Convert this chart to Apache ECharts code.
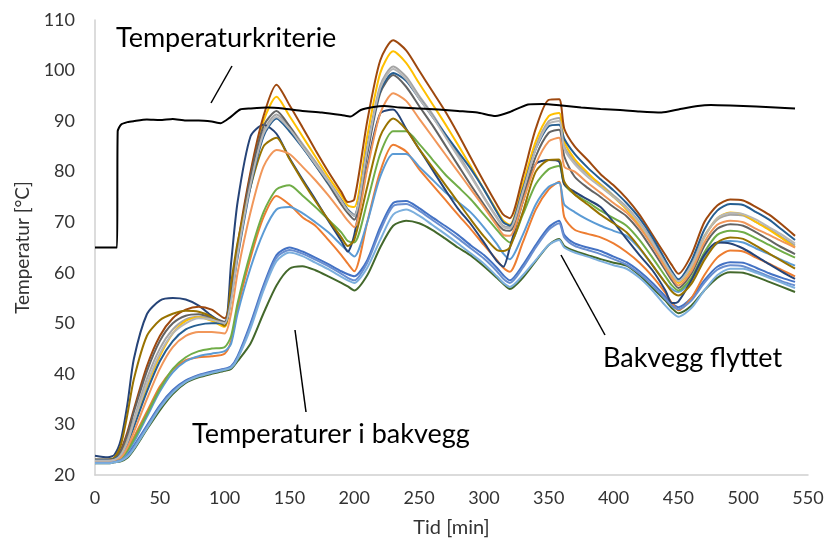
<!DOCTYPE html>
<html>
<head>
<meta charset="utf-8">
<script src="https://cdn.jsdelivr.net/npm/echarts@6/dist/echarts.min.js"></script>
<style>
html,body{margin:0;padding:0;background:#fff;}
#chart{width:827px;height:543px;}
</style>
</head>
<body>
<div id="chart"></div>
<script>
// Time (min) sample points shared by the temperature series
const times = [0,10,15,20,25,30, 40,50,60,70,80,90, 100,105,110,120,130,140, 150,160,170,180,190,195,
  200,210,220,230,240,250, 260,270,280,290,300,310, 315,320,330,340,350,358, 362,370,380,390,400,410,
  420,430,440,445,450,460, 470,480,490,500,510,520, 530,540];

const blue = [22.5,22.5,22.6,23,24,25.8, 29.8,33.8,36.8,38.7,39.8,40.5, 41,41.5,43.5,50,57.5,63.5, 65,64.2,63,61.7,60.3,59.7,
  59.3,62.5,69,73.8,74.2,72.8, 71,69.3,67.5,65.4,63.5,61, 59.5,58.5,61.5,65.5,69,70.3, 67.5,65.8,65,64.3,63.2,62.1,
  60.3,58,55.3,54,53.2,55, 58.5,61.2,62.1,62,61,59.9, 59,58.2];
const orange = [22.5,22.5,22.8,23.3,25,27.5, 32.5,37.5,40.8,42.7,43.3,43.5, 44,46.5,53,63,71,75.2, 73.5,71,69.3,66.5,63.5,61.8,
  60.3,70,80,85.3,84,80.5, 77.5,74.5,71.5,68.6,65.5,62.5, 61,60.2,66,72.5,76.5,78, 71,68.5,67.7,67,65.8,64.1,
  62,59.3,56,54,52.6,55, 59.5,63,64.4,64.2,63,61.8, 60.5,59.3];
const gray = [22.8,22.8,23,24.3,27,31, 39,45,48.8,50.8,51.3,51, 50.2,55,64,78,88,91.3, 89,85.5,82,78.3,74.5,72.5,
  71.5,85,97,100.8,98.8,95, 91.5,87.5,83.5,79.3,75,71, 69.3,69,76.5,85,90,90.6, 85,82,79.5,77.5,75.3,73,
  70,66.3,62,60,58.5,61.5, 67.3,70.5,71.5,71.3,70,68.7, 67,65.4];
const yellow = [22.8,22.8,23,24,26.5,30, 37.5,43.5,48,50.5,51.2,50.5, 49.3,55,64.5,79.5,90,94.8, 91,87,83,79,75.3,73.3,
  73,87,99.5,103.8,101.5,97.5, 93.5,89.5,85.3,81,76.5,72.3, 70.3,69.5,77.5,86,91,91.6, 86,82.5,79.8,77.3,75,72.5,
  69.3,65.5,61.3,59.5,58,61, 67,70.8,71.9,71.5,70,68.5, 66.8,65];
const lightBlue = [22.5,22.5,22.7,23,24.5,26.5, 31.5,36.5,40.3,42.5,43.5,44, 44.5,46,52,61,68,72.5, 73,71.8,70,68,65.5,64.3,
  63.2,70,79,83.5,83.5,81, 78.5,76,74,71.9,69,65.7, 63.8,62.7,67.5,73.5,77,77.8, 73.5,72,70.5,69.3,68.3,67.3,
  64.8,61.5,58,56.8,56.2,58.5, 63,65.8,66.3,66,64.8,63.7, 62.5,61.4];
const green = [22.5,22.5,22.8,23.3,24.8,27, 32,37,41,43.3,44.5,45, 45.3,47.5,54,64,72,76.5, 77.3,75.3,73,70.5,68,66.3,
  66,74,83.5,88,88,85.5, 82.5,79.5,77,74.5,71.5,68.5, 67,66,71.5,77.5,80.5,81.1, 77.5,75.5,74,72.3,70.8,69.3,
  66.5,63,59.3,57.5,56.5,59, 64,67.5,68.3,68,66.8,65.5, 64.2,63];
const navy = [23.8,23.5,24,27,34,43, 51.8,54.5,55,54.7,53.5,51.5, 50,62,74,87,89.3,87.5, 82.7,78.5,74.5,70.3,66.3,64.2,
  67.5,81,91.5,92.3,88.5,84.5, 80.5,76.5,72.7,69.6,66,62.3, 61.2,65,74,81.5,82.3,82, 77.5,76,74.5,73,70,66.7,
  63.5,60.5,56.5,54,54.3,58.5, 63.5,66,65.8,64.8,63.3,61.7, 60.2,58.8];
const brown = [23,23,23.3,25,28.5,33, 41.5,47.5,51,52.7,53.3,52.7, 51,56,65.5,80,91,97.2, 93.2,88.8,84.3,80,76,74,
  74.5,90,102,106,104,100, 96,92,87.5,82.7,78,73.5, 71.5,70.8,79,88.5,94.2,94.3, 88.5,85,82.3,79.5,77.3,74.7,
  71.5,67.5,63.5,61.5,59.8,63.5, 70,73.3,74.5,74.3,73,71.5, 69.5,67.3];
const darkGray = [23,23,23.3,24.8,28,32.5, 40.5,46.5,50,51.5,51.8,51.2, 50.3,55.5,64.5,79,89,92, 89,85,81.3,77.5,73.5,71.8,
  70.5,83.5,95.5,99.1,96.8,93, 89.3,85.3,81.3,77.3,73.5,69.8, 68.5,68.3,75,83,87.7,88.3, 83,79,76.8,75,73,71.2,
  68.3,64.5,60.5,58.5,57,59.8, 65.3,68.7,69.6,69.3,68,66.5, 65,63.7];
const olive = [23,23,23.5,26,32,39, 47.5,50.6,51.9,52.5,52.3,51.3, 49.5,58,66,77,85,86.7, 82.5,78.2,74.2,70.5,67,65.3,
  66.5,77,87,90.5,88.3,84.5, 81,77.5,74,70.5,67.2,64.5, 64.3,65,72,80,82.3,82.4, 78,75.5,73.5,71.5,69.8,68,
  65,61.5,58,56.3,55.5,57.8, 62.5,66,67,66.7,65.3,63.8, 62.3,60.8];
const steelBlue = [23,23,23.2,24,26,29.5, 36.5,42.5,46.5,48.8,49.7,50, 50,55,63,77,87,90.5, 88,84.8,81.3,77.8,74.3,72.5,
  71.3,84.5,96,99.5,98,94.5, 91,87.5,84,80.5,76.5,72, 70,69.3,76.5,84.5,89,89.3, 86.5,83.5,80.8,78.5,76.3,73.8,
  70.8,67,62.5,60.3,58.7,62.3, 68.5,72.3,73.6,73.4,72,70.5, 68.5,66.5];
const darkGreen = [22.3,22.3,22.5,22.7,23.4,25, 29,32.8,36,38.2,39.3,40, 40.6,41,42.5,46,52,57.5, 60.8,61.3,60.5,59.3,58,57.3,
  56.5,59.5,65,69.3,70.3,69.8, 68.5,66.8,65,63.4,61.3,59, 57.8,56.8,59,62.3,65.5,66.7, 65.3,64.3,63.5,62.7,62,61.4,
  59.5,57,54.5,53,52,53.5, 56.5,59,60.1,60,59.2,58.2, 57.2,56.2];
const lighterBlue = [22.5,22.5,22.6,23,23.8,25.5, 29.5,33.5,36.5,38.5,39.7,40.3, 40.9,41.3,43.2,49.5,57,63, 64.5,63.8,62.6,61.3,59.8,59,
  58.5,62,68.3,73.2,73.6,72.3, 70.5,68.7,66.8,64.8,62.8,60.3, 58.8,58,61,65,68.5,69.8, 67,65.3,64.5,63.7,62.7,61.6,
  59.8,57.5,54.8,53.5,52.8,54.5, 58,60.6,61.5,61.3,60.3,59.3, 58.3,57.5];
const lightOrange = [22.8,22.8,23,23.5,25.5,28.5, 35,41,45.3,47.5,48.3,48.3, 48,52,60,72,81,84.3, 83.5,81,78.3,75.3,72,70.3,
  69,80.5,91.5,95.5,94,90.5, 87,83.5,80,76.5,73,69.3, 67.5,67.3,74,81.5,86,86.7, 81,80,77.8,75.8,73.8,71.9,
  69,65.3,61,59,57.5,60.3, 66,69.5,70.3,70,68.7,67.5, 66.2,65];
const lightGray = [22.8,22.8,23,24,26.5,30.5, 38,44,48,50,51,50.7, 50,54.5,63.5,77.5,87.5,90.8, 88.5,85,81.5,78,74.2,72.3,
  71.3,84.5,96.5,100.3,98.3,94.5, 91,87,83,79,74.8,70.8, 69,68.8,76,84.5,89.5,90, 84.5,81.5,79,77,75,72.8,
  69.8,66,61.8,59.8,58.3,61.3, 67,70.8,71.8,71.6,70.5,69, 67.5,65.8];
const paleBlue = [22.3,22.3,22.5,22.8,23.6,25.2, 29.2,33.2,36.3,38.4,39.5,40.2, 40.8,41.2,43,49,56.5,62.3, 64,63.3,62,60.7,59.2,58.5,
  58,61,66.5,71.5,72.5,71.3, 69.5,67.7,65.8,63.8,61.8,59.3, 58,57.2,59.5,62.5,65.5,66.5, 65,64,63.2,62.3,61.5,60.8,
  59,56.5,53.5,52.2,51.3,53, 56.5,59.5,60.8,60.8,60,59, 58,57];

// Temperature criterion curve (own time stamps)
const critTimes = [0,17,17.5,20,25,30,40,50,60,70,80,90,97,104,112,120,133,145,160,175,190,197,205,215,223,235,250,265,280,295,309,320,334,345,360,375,390,405,420,437,450,465,475,490,510,525,540];
const critValues = [65,65,88,89.3,89.8,90,90.3,90.2,90.4,90.1,90.1,89.9,89.6,90.7,92.3,92.5,92.7,92.5,92,91.7,91.2,90.9,92.2,92.8,93,92.7,92.5,92.3,92,91.7,91,91.8,93.3,93.4,93.1,92.7,92.4,92.2,91.9,91.7,92.3,93,93.2,93.1,92.9,92.7,92.5];

// Axis ticks
const xTicks = {min: 0, max: 550, step: 50};
const yTicks = {min: 20, max: 110, step: 10};

const seriesDefs = [
  [blue, '#4472C4'], [orange, '#ED7D31'], [gray, '#A5A5A5'], [yellow, '#FFC000'],
  [lightBlue, '#5B9BD5'], [green, '#70AD47'], [navy, '#264478'], [brown, '#9E480E'],
  [darkGray, '#636363'], [olive, '#997300'], [steelBlue, '#255E91'], [darkGreen, '#43682B'],
  [lighterBlue, '#698ED0'], [lightOrange, '#F1975A'], [lightGray, '#B7B7B7'], [paleBlue, '#7CAFDD']
];

const FONT = 'Lato, Carlito, "Liberation Sans", sans-serif';
const series = seriesDefs.map(([vals, color]) => ({
  type: 'line', showSymbol: false, smooth: 0.25, animation: false,
  data: times.map((t, i) => [t, vals[i]]),
  lineStyle: {color: color, width: 2}, itemStyle: {color: color}
}));
series.push({
  type: 'line', showSymbol: false, smooth: 0.2, animation: false,
  data: critTimes.map((t, i) => [t, critValues[i]]),
  lineStyle: {color: '#000', width: 2}, itemStyle: {color: '#000'}
});

const chart = echarts.init(document.getElementById('chart'));
chart.setOption({
  animation: false,
  backgroundColor: '#fff',
  grid: {left: 95, right: 19, top: 20, bottom: 66},
  xAxis: {
    type: 'value', min: xTicks.min, max: xTicks.max, interval: xTicks.step,
    name: 'Tid [min]', nameLocation: 'middle', nameGap: 43,
    nameTextStyle: {fontFamily: FONT, fontSize: 20, color: '#333'},
    axisLine: {show: true, lineStyle: {color: '#D0D0D0', width: 1.5}},
    axisTick: {show: false}, splitLine: {show: false},
    axisLabel: {fontFamily: FONT, fontSize: 18, color: '#333', margin: 14}
  },
  yAxis: {
    type: 'value', min: yTicks.min, max: yTicks.max, interval: yTicks.step,
    name: 'Temperatur [°C]', nameLocation: 'middle', nameGap: 58,
    nameTextStyle: {fontFamily: FONT, fontSize: 19, color: '#333'},
    axisLine: {show: true, lineStyle: {color: '#D0D0D0', width: 1.5}},
    axisTick: {show: false}, splitLine: {show: false},
    axisLabel: {fontFamily: FONT, fontSize: 18, color: '#333', margin: 20}
  },
  series: series,
  graphic: [
    {type: 'text', left: 116, top: 25, style: {text: 'Temperaturkriterie', font: '27px ' + FONT, fill: '#000'}},
    {type: 'line', shape: {x1: 232, y1: 66, x2: 211, y2: 103}, style: {stroke: '#000', lineWidth: 1.5}},
    {type: 'text', left: 192, top: 421, style: {text: 'Temperaturer i bakvegg', font: '27px ' + FONT, fill: '#000'}},
    {type: 'line', shape: {x1: 295, y1: 330, x2: 306, y2: 412}, style: {stroke: '#000', lineWidth: 1.5}},
    {type: 'text', left: 603, top: 345, style: {text: 'Bakvegg flyttet', font: '27px ' + FONT, fill: '#000'}},
    {type: 'line', shape: {x1: 561, y1: 255, x2: 605, y2: 335}, style: {stroke: '#000', lineWidth: 1.5}}
  ]
});
</script>
</body>
</html>
